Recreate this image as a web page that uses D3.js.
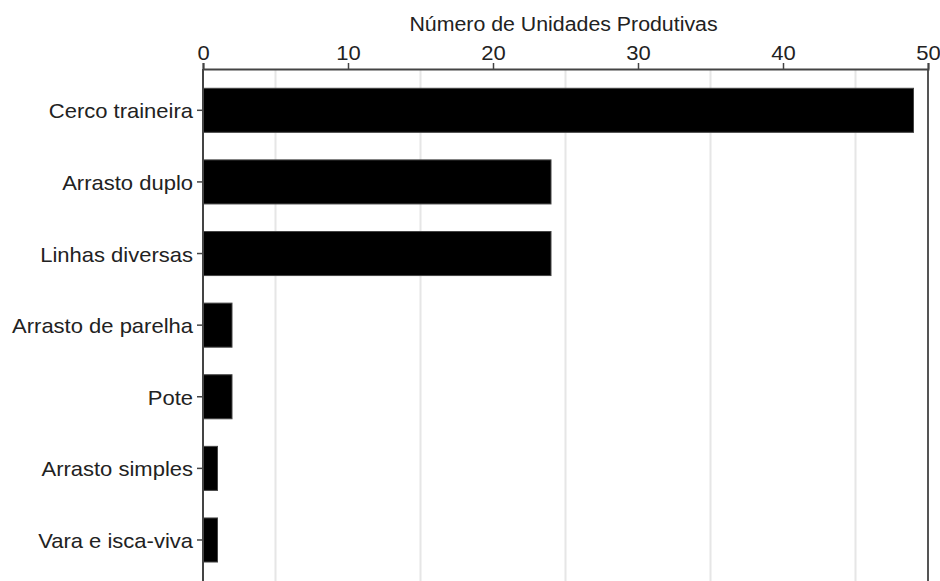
<!DOCTYPE html>
<html><head><meta charset="utf-8">
<script src="https://cdn.jsdelivr.net/npm/d3@7"></script>
<style>
html,body{margin:0;padding:0;background:#fff;}
svg{display:block;}
text{font-family:"Liberation Sans",Arial,sans-serif;fill:#222;}
</style></head>
<body>
<svg id="c" width="940" height="581"></svg>
<script>
const categories = ["Cerco traineira","Arrasto duplo","Linhas diversas","Arrasto de parelha","Pote","Arrasto simples","Vara e isca-viva"];
const values = [49, 24, 24, 2, 2, 1, 1];
const xTicks = [0, 10, 20, 30, 40, 50];
const gridTicks = [5, 15, 25, 35, 45];
const xTitle = "Número de Unidades Produtivas";

const svg = d3.select("#c");
const W = 940, H = 581;
const mLeft = 203, mRight = 928, mTop = 69;
const x = d3.scaleLinear().domain([0, 50]).range([mLeft, mRight]);
const y = d3.scaleBand().domain(categories).range([74.5, 575.8]).paddingInner(0.385).paddingOuter(0.1925);
const sx = 1.1;

// grid
svg.append("g").selectAll("line").data(gridTicks).join("line")
  .attr("x1", d => x(d)).attr("x2", d => x(d))
  .attr("y1", mTop).attr("y2", H)
  .attr("stroke", "#e6e6e6").attr("stroke-width", 2);

// bars
svg.append("g").selectAll("rect").data(values).join("rect")
  .attr("x", x(0)).attr("y", (d, i) => y(categories[i]))
  .attr("width", d => x(d) - x(0)).attr("height", y.bandwidth())
  .attr("fill", "#000").attr("stroke", "#444").attr("stroke-width", 1);

// right border
svg.append("line").attr("x1", mRight).attr("x2", mRight).attr("y1", mTop).attr("y2", H)
  .attr("stroke", "#555").attr("stroke-width", 2);

// top axis
const gx = svg.append("g").attr("transform", `translate(0,${mTop})`)
  .call(d3.axisTop(x).tickValues(xTicks).tickSize(6).tickPadding(3).tickFormat(d3.format("d")));
gx.select(".domain").attr("stroke", "#444").attr("stroke-width", 2);
gx.selectAll(".tick line").attr("stroke", "#444").attr("stroke-width", 1.5);
gx.selectAll(".tick text").attr("font-size", 20).attr("fill", "#222")
  .attr("font-family", "Liberation Sans, Arial, sans-serif")
  .attr("transform", `scale(${sx},1)`);

// left axis
const gy = svg.append("g").attr("transform", `translate(${mLeft},0)`)
  .call(d3.axisLeft(y).tickSize(6).tickPadding(4));
gy.select(".domain").remove();
gy.append("line").attr("x1", 0).attr("x2", 0).attr("y1", mTop).attr("y2", H)
  .attr("stroke", "#444").attr("stroke-width", 2);
gy.selectAll(".tick line").attr("stroke", "#444").attr("stroke-width", 1.5);
gy.selectAll(".tick text").attr("font-size", 20).attr("fill", "#222")
  .attr("font-family", "Liberation Sans, Arial, sans-serif")
  .attr("dy", "0.4em")
  .attr("x", -10 / sx).attr("transform", `scale(${sx},1)`);

// title
svg.append("text").attr("text-anchor", "middle")
  .attr("transform", `translate(${(mLeft + mRight) / 2 - 2},31) scale(${sx},1)`)
  .attr("font-size", 19.4).text(xTitle);
</script>
</body></html>
